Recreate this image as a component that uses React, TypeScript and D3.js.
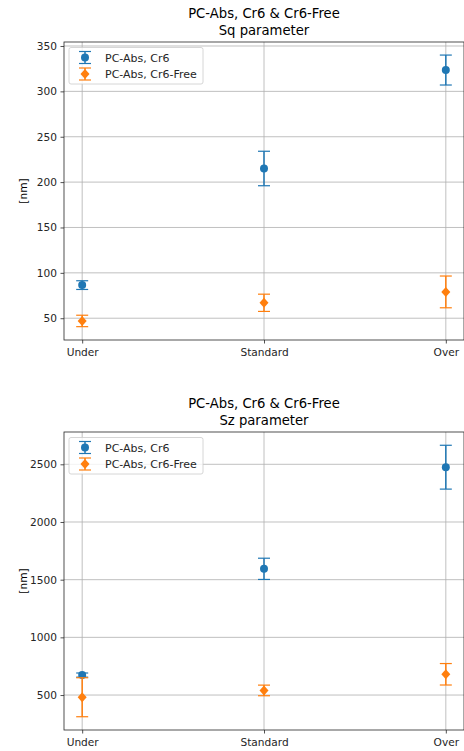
import * as d3 from 'd3';
import { useEffect, useRef } from 'react';

// categories and series
const categories = ['Under', 'Standard', 'Over'];
const seriesNames = ['PC-Abs, Cr6', 'PC-Abs, Cr6-Free'];

// Sq parameter
const sqCr6 = [86.5, 215, 323.5];
const sqCr6Err = [4.8, 19, 16.5];
const sqFree = [47, 67, 79];
const sqFreeErr = [6.3, 9.5, 17.5];
const sqTicks = [50, 100, 150, 200, 250, 300, 350];

// Sz parameter
const szCr6 = [673, 1594, 2475];
const szCr6Err = [18, 92, 190];
const szFree = [481, 540, 680];
const szFreeErr = [169, 46, 93];
const szTicks = [500, 1000, 1500, 2000, 2500];

const W = 464;
const H = 751;
const blue = '#1f77b4';
const orange = '#ff7f0e';

interface Panel {
  title: string;
  top: number;
  bottom: number;
  domain: [number, number];
  ticks: number[];
  a: number[];
  aErr: number[];
  b: number[];
  bErr: number[];
}

const panels: Panel[] = [
  {
    title: 'Sq parameter',
    top: 42,
    bottom: 340,
    domain: [26, 354.4],
    ticks: sqTicks,
    a: sqCr6,
    aErr: sqCr6Err,
    b: sqFree,
    bErr: sqFreeErr,
  },
  {
    title: 'Sz parameter',
    top: 432,
    bottom: 730,
    domain: [197, 2780],
    ticks: szTicks,
    a: szCr6,
    aErr: szCr6Err,
    b: szFree,
    bErr: szFreeErr,
  },
];

const diamondPath = 'M0,-5L4.5,0L0,5L-4.5,0Z';

function App() {
  const ref = useRef<SVGSVGElement>(null);

  useEffect(() => {
    const svg = d3.select(ref.current);
    svg.selectAll('*').remove();
    const left = 64;
    const right = 464;

    const x = d3
      .scaleLinear()
      .domain([-0.1, 2.1])
      .range([left, right]);

    panels.forEach((p) => {
      const y = d3.scaleLinear().domain(p.domain).range([p.bottom, p.top]);
      const g = svg.append('g');

      // grid
      g.selectAll('.vgrid')
        .data(categories)
        .enter()
        .append('line')
        .attr('x1', (_d, i) => x(i))
        .attr('x2', (_d, i) => x(i))
        .attr('y1', p.top)
        .attr('y2', p.bottom)
        .attr('stroke', '#b0b0b0')
        .attr('stroke-width', 0.8);
      g.selectAll('.hgrid')
        .data(p.ticks)
        .enter()
        .append('line')
        .attr('x1', left)
        .attr('x2', right)
        .attr('y1', (d) => y(d))
        .attr('y2', (d) => y(d))
        .attr('stroke', '#b0b0b0')
        .attr('stroke-width', 0.8);

      // axes
      const yAxis = g
        .append('g')
        .attr('transform', `translate(${left},0)`)
        .call(
          d3
            .axisLeft(y)
            .tickValues(p.ticks)
            .tickFormat(d3.format('d'))
            .tickSize(3.5)
            .tickPadding(3.5)
            .tickSizeOuter(0)
        );
      const xAxis = g
        .append('g')
        .attr('transform', `translate(0,${p.bottom})`)
        .call(
          d3
            .axisBottom(x)
            .tickValues([0, 1, 2])
            .tickFormat((d) => categories[d as number])
            .tickSize(3.5)
            .tickPadding(5)
            .tickSizeOuter(0)
        );
      [yAxis, xAxis].forEach((ax) => {
        ax.select('.domain').remove();
        ax.selectAll('text')
          .attr('fill', '#262626')
          .style('font-family', 'DejaVu Sans')
          .style('font-size', '10.6px');
        ax.selectAll('line').attr('stroke', '#262626').attr('stroke-width', 0.8);
      });

      g.append('rect')
        .attr('x', left)
        .attr('y', p.top)
        .attr('width', right - left)
        .attr('height', p.bottom - p.top)
        .attr('fill', 'none')
        .attr('stroke', '#262626')
        .attr('stroke-width', 0.8);

      // titles
      const cx = (left + right) / 2;
      g.append('text')
        .attr('x', cx)
        .attr('y', p.top - 24)
        .attr('text-anchor', 'middle')
        .style('font-family', 'DejaVu Sans')
        .style('font-size', '13.2px')
        .text('PC-Abs, Cr6 & Cr6-Free');
      g.append('text')
        .attr('x', cx)
        .attr('y', p.top - 7.5)
        .attr('text-anchor', 'middle')
        .style('font-family', 'DejaVu Sans')
        .style('font-size', '13.2px')
        .text(p.title);
      g.append('text')
        .attr('transform', `translate(27,${(p.top + p.bottom) / 2}) rotate(-90)`)
        .attr('text-anchor', 'middle')
        .style('font-family', 'DejaVu Sans')
        .style('font-size', '10.6px')
        .text('[nm]');

      // error bars + markers
      const drawSeries = (vals: number[], errs: number[], color: string, diamond: boolean) => {
        const s = g.append('g');
        vals.forEach((v, i) => {
          const px = x(i);
          s.append('line')
            .attr('x1', px)
            .attr('x2', px)
            .attr('y1', y(v - errs[i]))
            .attr('y2', y(v + errs[i]))
            .attr('stroke', color)
            .attr('stroke-width', 1.5);
          [v - errs[i], v + errs[i]].forEach((c) => {
            s.append('line')
              .attr('x1', px - 6)
              .attr('x2', px + 6)
              .attr('y1', y(c))
              .attr('y2', y(c))
              .attr('stroke', color)
              .attr('stroke-width', 1.2);
          });
          s.append('path')
            .attr('transform', `translate(${px},${y(v)})`)
            .attr('d', diamond ? diamondPath : d3.symbol(d3.symbolCircle, 50)())
            .attr('fill', color);
        });
      };
      drawSeries(p.a, p.aErr, blue, false);
      drawSeries(p.b, p.bErr, orange, true);

      // legend
      const lg = g.append('g').attr('transform', `translate(69,${p.top + 5.5})`);
      lg.append('rect')
        .attr('width', 134)
        .attr('height', 36.5)
        .attr('rx', 2)
        .attr('fill', 'white')
        .attr('fill-opacity', 0.8)
        .attr('stroke', '#cccccc')
        .attr('stroke-width', 0.8);
      seriesNames.forEach((name, i) => {
        const ly = 10 + i * 16.5;
        const color = i === 0 ? blue : orange;
        lg.append('line')
          .attr('x1', 16)
          .attr('x2', 16)
          .attr('y1', ly - 6)
          .attr('y2', ly + 6)
          .attr('stroke', color)
          .attr('stroke-width', 1.5);
        [ly - 6, ly + 6].forEach((c) =>
          lg
            .append('line')
            .attr('x1', 10)
            .attr('x2', 22)
            .attr('y1', c)
            .attr('y2', c)
            .attr('stroke', color)
            .attr('stroke-width', 1.2)
        );
        lg.append('path')
          .attr('transform', `translate(16,${ly})`)
          .attr('d', i === 1 ? diamondPath : d3.symbol(d3.symbolCircle, 50)())
          .attr('fill', color);
        lg.append('text')
          .attr('x', 36)
          .attr('y', ly + 4)
          .style('font-family', 'DejaVu Sans')
          .style('font-size', '11px')
          .attr('fill', '#262626')
          .text(name);
      });
    });
  }, []);

  return (
    <svg
      ref={ref}
      width={W}
      height={H}
      style={{ position: 'absolute', left: 0, top: 0, background: 'white' }}
    />
  );
}

export default App;
